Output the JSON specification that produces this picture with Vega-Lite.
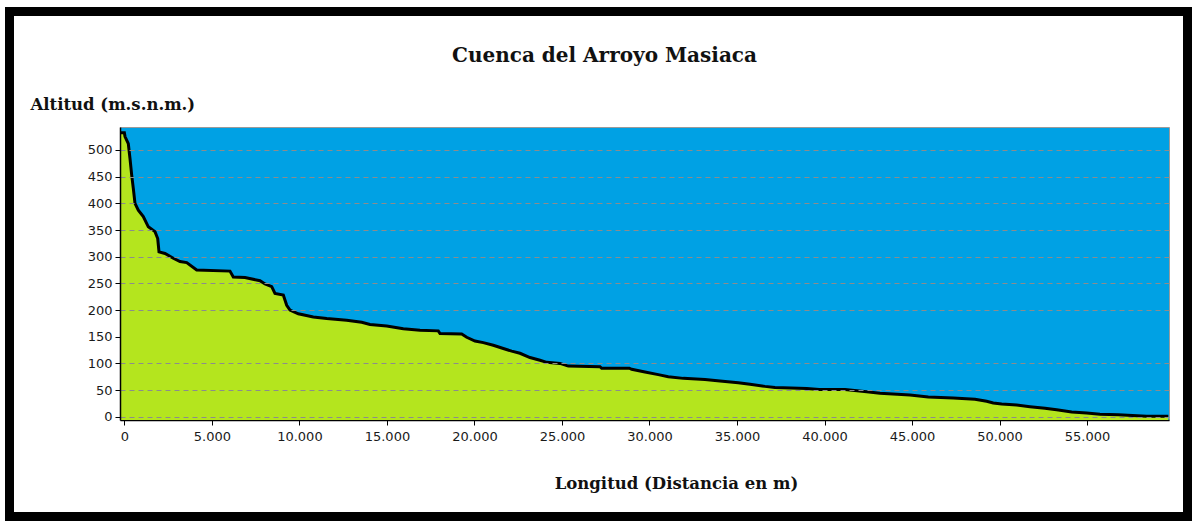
{
  "$schema": "https://vega.github.io/schema/vega-lite/v6.json",
  "width": 1049,
  "height": 293,
  "autosize": {"type": "none"},
  "padding": {"left": 120, "top": 127, "right": 26, "bottom": 101},
  "background": "white",
  "config": {
    "view": {"fill": "#00A1E4", "stroke": "#9a9a9a", "strokeWidth": 1}
  },
  "title": {
    "text": "Cuenca del Arroyo Masiaca",
    "frame": "group",
    "anchor": "middle",
    "dx": -40,
    "offset": -74,
    "baseline": "alphabetic",
    "font": "DejaVu Serif",
    "fontSize": 20,
    "fontWeight": "bold",
    "color": "#111111"
  },
  "data": {
    "values": [
      {"distancia": -250, "altitud": 532},
      {"distancia": 0, "altitud": 532},
      {"distancia": 36, "altitud": 525},
      {"distancia": 224, "altitud": 512},
      {"distancia": 321, "altitud": 484},
      {"distancia": 418, "altitud": 453},
      {"distancia": 510, "altitud": 428},
      {"distancia": 607, "altitud": 400},
      {"distancia": 795, "altitud": 387},
      {"distancia": 1081, "altitud": 375},
      {"distancia": 1367, "altitud": 356},
      {"distancia": 1750, "altitud": 347},
      {"distancia": 1904, "altitud": 334},
      {"distancia": 1978, "altitud": 309},
      {"distancia": 2321, "altitud": 306},
      {"distancia": 2795, "altitud": 297},
      {"distancia": 3178, "altitud": 291},
      {"distancia": 3561, "altitud": 289},
      {"distancia": 4132, "altitud": 275},
      {"distancia": 6034, "altitud": 273},
      {"distancia": 6223, "altitud": 262},
      {"distancia": 6891, "altitud": 261},
      {"distancia": 7748, "altitud": 255},
      {"distancia": 8034, "altitud": 249},
      {"distancia": 8417, "altitud": 244},
      {"distancia": 8605, "altitud": 231},
      {"distancia": 9080, "altitud": 228},
      {"distancia": 9274, "altitud": 209},
      {"distancia": 9462, "altitud": 200},
      {"distancia": 9936, "altitud": 193},
      {"distancia": 10793, "altitud": 187},
      {"distancia": 11559, "altitud": 184},
      {"distancia": 12701, "altitud": 181},
      {"distancia": 13559, "altitud": 177},
      {"distancia": 14033, "altitud": 173},
      {"distancia": 14987, "altitud": 170},
      {"distancia": 15935, "altitud": 165},
      {"distancia": 16889, "altitud": 162},
      {"distancia": 17934, "altitud": 161},
      {"distancia": 18032, "altitud": 156},
      {"distancia": 19272, "altitud": 155},
      {"distancia": 19557, "altitud": 149},
      {"distancia": 20032, "altitud": 142},
      {"distancia": 20506, "altitud": 139},
      {"distancia": 21077, "altitud": 134},
      {"distancia": 21648, "altitud": 128},
      {"distancia": 22128, "altitud": 123},
      {"distancia": 22602, "altitud": 119},
      {"distancia": 23173, "altitud": 111},
      {"distancia": 23745, "altitud": 106},
      {"distancia": 24127, "altitud": 102},
      {"distancia": 24887, "altitud": 100},
      {"distancia": 25361, "altitud": 95},
      {"distancia": 27172, "altitud": 94},
      {"distancia": 27269, "altitud": 91},
      {"distancia": 28846, "altitud": 91},
      {"distancia": 28983, "altitud": 89},
      {"distancia": 29743, "altitud": 84},
      {"distancia": 30503, "altitud": 79},
      {"distancia": 31074, "altitud": 75},
      {"distancia": 31931, "altitud": 72},
      {"distancia": 33171, "altitud": 70},
      {"distancia": 34028, "altitud": 67},
      {"distancia": 35073, "altitud": 64},
      {"distancia": 35742, "altitud": 61},
      {"distancia": 36599, "altitud": 57},
      {"distancia": 37170, "altitud": 55},
      {"distancia": 38981, "altitud": 53},
      {"distancia": 39701, "altitud": 51},
      {"distancia": 41169, "altitud": 51},
      {"distancia": 42408, "altitud": 47},
      {"distancia": 43168, "altitud": 44},
      {"distancia": 44882, "altitud": 41},
      {"distancia": 45928, "altitud": 37},
      {"distancia": 47356, "altitud": 35},
      {"distancia": 48596, "altitud": 33},
      {"distancia": 49264, "altitud": 29},
      {"distancia": 49641, "altitud": 26},
      {"distancia": 50121, "altitud": 24},
      {"distancia": 50978, "altitud": 22},
      {"distancia": 51738, "altitud": 19},
      {"distancia": 52595, "altitud": 16},
      {"distancia": 53263, "altitud": 13},
      {"distancia": 54120, "altitud": 9},
      {"distancia": 54977, "altitud": 7},
      {"distancia": 55737, "altitud": 5},
      {"distancia": 56782, "altitud": 4},
      {"distancia": 58405, "altitud": 1},
      {"distancia": 59640, "altitud": 1}
    ]
  },
  "encoding": {
    "x": {
      "field": "distancia",
      "type": "quantitative",
      "scale": {"domain": [-250, 59680], "nice": false, "zero": false},
      "axis": {
        "values": [0, 5000, 10000, 15000, 20000, 25000, 30000, 35000, 40000, 45000, 50000, 55000],
        "labelExpr": "replace(format(datum.value, ','), ',', '.')",
        "grid": false,
        "domainColor": "#000000",
        "domainWidth": 1.5,
        "tickColor": "#000000",
        "tickSize": 5,
        "labelFont": "DejaVu Sans",
        "labelFontSize": 13,
        "labelColor": "#1a1a1a",
        "labelPadding": 5,
        "title": "Longitud (Distancia en m)",
        "titleFont": "DejaVu Serif",
        "titleFontSize": 16.5,
        "titleFontWeight": "bold",
        "titleColor": "#111111",
        "titleX": 556,
        "titleY": 63,
        "titleAlign": "center",
        "titleBaseline": "middle"
      }
    },
    "y": {
      "field": "altitud",
      "type": "quantitative",
      "scale": {"domain": [-6, 543], "nice": false, "zero": false},
      "axis": {
        "values": [0, 50, 100, 150, 200, 250, 300, 350, 400, 450, 500],
        "zindex": 1,
        "grid": true,
        "gridColor": "#8c8c8c",
        "gridDash": [5, 4],
        "gridWidth": 1,
        "gridOpacity": {"condition": {"test": "datum.value === 150", "value": 0}, "value": 1},
        "domainColor": "#000000",
        "domainWidth": 1.5,
        "tickColor": "#000000",
        "tickSize": 5,
        "labelFont": "DejaVu Sans",
        "labelFontSize": 13,
        "labelColor": "#1a1a1a",
        "labelPadding": 3,
        "title": "Altitud (m.s.n.m.)",
        "titleFont": "DejaVu Serif",
        "titleFontSize": 16.5,
        "titleFontWeight": "bold",
        "titleColor": "#111111",
        "titleAngle": 0,
        "titleAlign": "left",
        "titleBaseline": "middle",
        "titleX": -90,
        "titleY": -23
      }
    }
  },
  "layer": [
    {
      "mark": {"type": "area", "color": "#B4E51E", "interpolate": "linear"},
      "encoding": {"y2": {"datum": -6}}
    },
    {
      "mark": {"type": "line", "color": "#000000", "strokeWidth": 3, "interpolate": "linear"}
    },
    {
      "mark": {"type": "rect", "fill": null, "fillOpacity": 0, "stroke": "#000000", "strokeWidth": 8},
      "encoding": {
        "x": {"datum": -6563},
        "x2": {"datum": 60736},
        "y": {"datum": 759},
        "y2": {"datum": -187}
      }
    }
  ]
}
